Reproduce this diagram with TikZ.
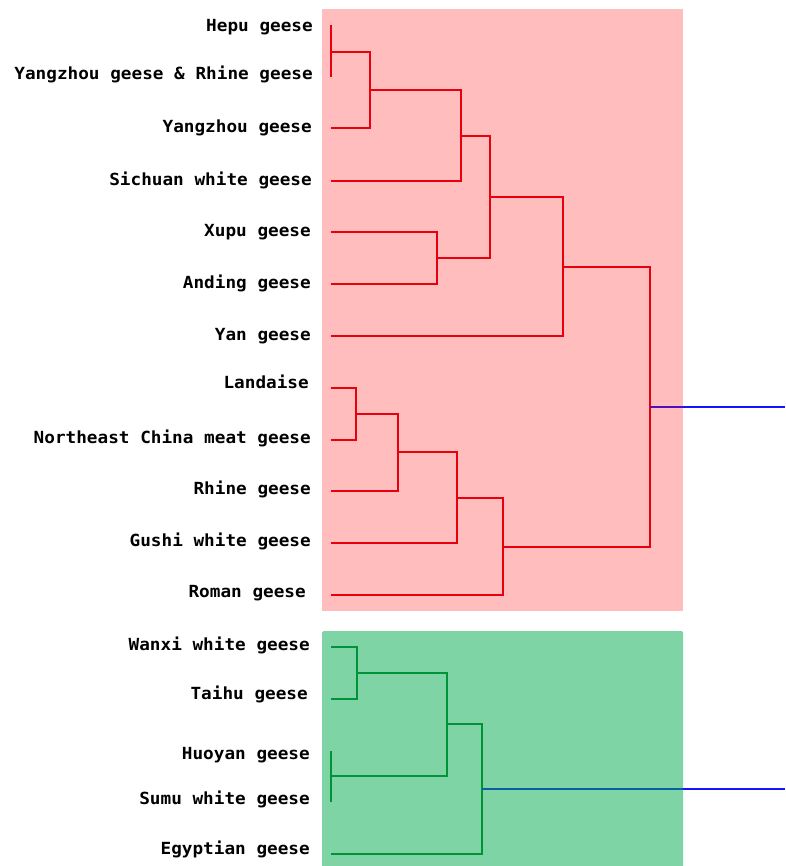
\documentclass[tikz,border=0pt]{standalone}
\usepackage{fontspec}
\newfontfamily\labfont[FakeStretch=1.06]{DejaVu Sans Mono}
\definecolor{redline}{RGB}{225,0,20}
\definecolor{greenline}{RGB}{0,125,40}
\definecolor{blueline}{RGB}{20,20,255}
\definecolor{pinkbox}{RGB}{255,0,0}
\definecolor{greenbox}{RGB}{0,170,75}
\tikzset{
  lab/.style={anchor=base east, inner sep=0pt, font=\labfont\bfseries\fontsize{16.7}{18}\selectfont},
  redtree/.style={draw=redline, line width=2.2pt},
  greentree/.style={draw=greenline, line width=2.2pt},
  thinred/.style={draw=redline, line width=1.3pt},
  thingreen/.style={draw=greenline, line width=1.3pt},
  rootline/.style={draw=blueline, line width=2.2pt},
  pinkarea/.style={fill=pinkbox, fill opacity=0.26},
  greenarea/.style={fill=greenbox, fill opacity=0.5, rounded corners=1.5pt}
}
\begin{document}
\begin{tikzpicture}[x=1pt,y=-1pt]
\useasboundingbox (0,0) rectangle (785,866);
% labels
\node[lab] (Lhepu) at (313,32) {Hepu geese};
\node[lab] (Lyr) at (313,79.5) {Yangzhou geese \& Rhine geese};
\node[lab] (Lyz) at (312,132.5) {Yangzhou geese};
\node[lab] (Lsc) at (312,185.5) {Sichuan white geese};
\node[lab] (Lxp) at (311,236.5) {Xupu geese};
\node[lab] (Lad) at (311,288.5) {Anding geese};
\node[lab] (Lyan) at (311,340.5) {Yan geese};
\node[lab] (Lld) at (309,388.5) {Landaise};
\node[lab] (Lne) at (311,443.5) {Northeast China meat geese};
\node[lab] (Lrh) at (311,494.5) {Rhine geese};
\node[lab] (Lgs) at (311,546.5) {Gushi white geese};
\node[lab] (Lrm) at (306,597.5) {Roman geese};
\node[lab] (Lwx) at (310,650.5) {Wanxi white geese};
\node[lab] (Lth) at (308,699.5) {Taihu geese};
\node[lab] (Lhy) at (310,759.5) {Huoyan geese};
\node[lab] (Lsm) at (310,804.5) {Sumu white geese};
\node[lab] (Leg) at (310,854.5) {Egyptian geese};
% leaf and merge coordinates
\coordinate (hepu) at (331,25);
\coordinate (yr) at (331,77);
\coordinate (c1) at (331,52);
\coordinate (yz) at (331,128);
\coordinate (m1) at (370,90);
\coordinate (sc) at (331,181);
\coordinate (m2) at (461,136);
\coordinate (xp) at (331,232);
\coordinate (ad) at (331,284);
\coordinate (m3) at (437,258);
\coordinate (m4) at (490,197);
\coordinate (yan) at (331,336);
\coordinate (m5) at (563,267);
\coordinate (ld) at (331,388);
\coordinate (ne) at (331,440);
\coordinate (m6) at (356,414);
\coordinate (rh) at (331,491);
\coordinate (m7) at (398,452);
\coordinate (gs) at (331,543);
\coordinate (m8) at (457,498);
\coordinate (rm) at (331,595);
\coordinate (m9) at (503,547);
\coordinate (m10) at (650,407);
\coordinate (root1) at (785,407);
\coordinate (wx) at (331,647);
\coordinate (th) at (331,699);
\coordinate (g1) at (357,673);
\coordinate (hy) at (331,751);
\coordinate (sm) at (331,802);
\coordinate (g2) at (331,776);
\coordinate (g3) at (447,724);
\coordinate (eg) at (331,854);
\coordinate (g4) at (482,789);
\coordinate (root2) at (785,789);
% red cluster
\draw[thinred] (hepu) -- (yr);
\draw[redtree] (c1) -| (m1) |- (yz);
\draw[redtree] (m1) -| (m2) |- (sc);
\draw[redtree] (xp) -| (m3) |- (ad);
\draw[redtree] (m2) -| (m4) |- (m3);
\draw[redtree] (m4) -| (m5) |- (yan);
\draw[redtree] (ld) -| (m6) |- (ne);
\draw[redtree] (m6) -| (m7) |- (rh);
\draw[redtree] (m7) -| (m8) |- (gs);
\draw[redtree] (m8) -| (m9) |- (rm);
\draw[redtree] (m5) -| (m10) |- (m9);
\draw[rootline] (m10) -- (root1);
% green cluster
\draw[greentree] (wx) -| (g1) |- (th);
\draw[thingreen] (hy) -- (sm);
\draw[greentree] (g1) -| (g3) |- (g2);
\draw[greentree] (g3) -| (g4) |- (eg);
\draw[rootline] (g4) -- (root2);
% translucent cluster areas
\fill[pinkarea] (322,9) rectangle (683,611);
\fill[greenarea] (322,631) rectangle (683,868);
\end{tikzpicture}
\end{document}
